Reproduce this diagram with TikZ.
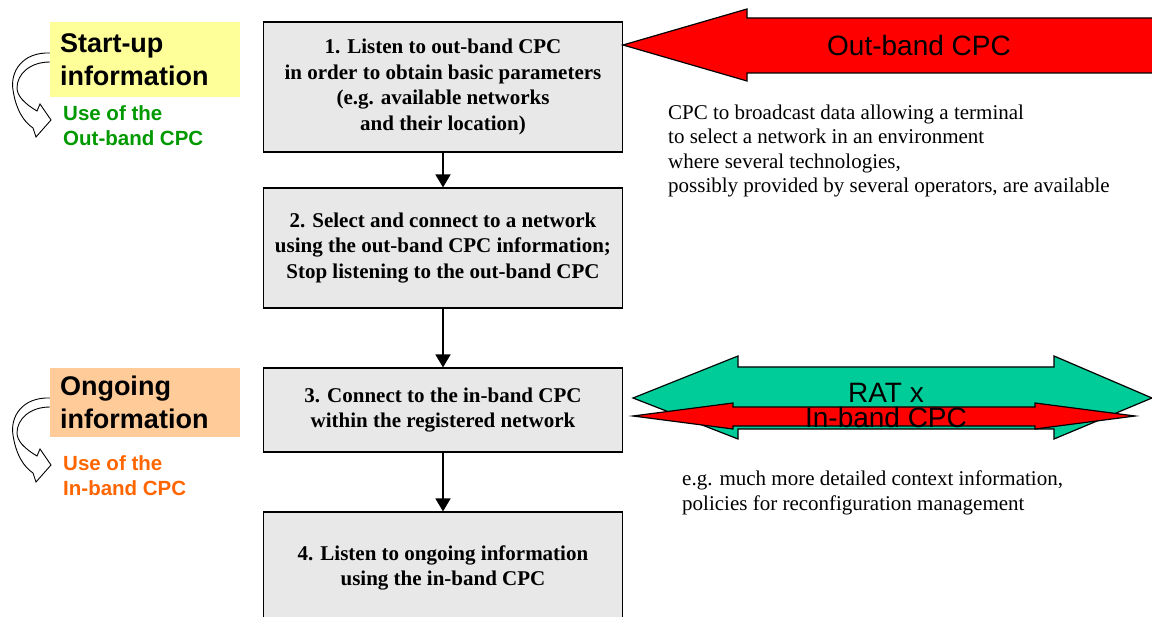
\documentclass[tikz,border=0pt]{standalone}
\usepackage{fontspec}
\setmainfont{Liberation Serif}
\setsansfont{Liberation Sans}
\usetikzlibrary{arrows.meta}

\definecolor{boxgray}{HTML}{E8E8E8}
\definecolor{startyellow}{HTML}{FFFF99}
\definecolor{ongoingorange}{HTML}{FFCC99}
\definecolor{usegreen}{HTML}{009900}
\definecolor{useorange}{HTML}{FF6600}
\definecolor{ratgreen}{HTML}{00CC99}
\definecolor{cpcred}{HTML}{FF0000}

\tikzset{
  stepbox/.style={draw=black, line width=1.2pt, fill=boxgray, minimum width=359pt,
    align=center, inner sep=0pt, font=\fontsize{21}{25.5}\selectfont\bfseries},
  flow/.style={line width=1.8pt, -{Triangle[length=13pt,width=15pt]}},
  phasebox/.style={minimum width=190pt, inner xsep=10pt, inner ysep=0pt, text width=170pt,
    align=left, font=\sffamily\bfseries\fontsize{27}{33}\selectfont},
  uselabel/.style={align=left, inner sep=0pt, anchor=north west,
    font=\sffamily\bfseries\fontsize{20.5}{25}\selectfont},
  note/.style={align=left, inner sep=0pt, anchor=north west,
    font=\fontsize{21}{24.5}\selectfont},
  blockarrow/.style={draw=black, line width=1.2pt},
  bigtext/.style={inner sep=0pt, font=\sffamily\fontsize{28}{25}\selectfont},
  turnarrow/.pic={
    \draw[line width=0.9pt, fill=white]
      (50,53) .. controls (22,52) and (10,72) .. (13,90)
      .. controls (16,110) and (24,122) .. (33,128)
      -- (36,137) -- (51,120) -- (40,104) -- (37,111)
      .. controls (25,104) and (17,96) .. (17,88)
      .. controls (17,74) and (30,62) .. (50,62);
  }
}

\begin{document}
\begin{tikzpicture}[x=1pt, y=-1pt]
\clip (0,0) rectangle (1152,617);
\fill[white] (0,0) rectangle (1152,617);

% flow of steps
\node[stepbox, minimum height=130pt] (s1) at (443,87)
  {1. Listen to out-band CPC\\in order to obtain basic parameters\\(e.g. available networks\\and their location)};
\node[stepbox, minimum height=120pt] (s2) at (443,248)
  {2. Select and connect to a network\\using the out-band CPC information;\\Stop listening to the out-band CPC};
\node[stepbox, minimum height=84pt] (s3) at (443,410)
  {3. Connect to the in-band CPC\\within the registered network};
\node[stepbox, minimum height=112pt] (s4) at (443,568)
  {4. Listen to ongoing information\\using the in-band CPC};

\draw[flow] (s1.south) -- (s2.north);
\draw[flow] (s2.south) -- (s3.north);
\draw[flow] (s3.south) -- (s4.north);

% phase labels on the left
\pic at (0,0) {turnarrow};
\pic at (0,345) {turnarrow};
\node[phasebox, fill=startyellow, minimum height=75pt] (startup) at (145,59.5)
  {Start-up\\information};
\node[uselabel, text=usegreen] (useout) at (63,105) {Use of the\\Out-band CPC};
\node[phasebox, fill=ongoingorange, minimum height=69pt] (ongoing) at (145,402.5)
  {Ongoing\\information};
\node[uselabel, text=useorange] (usein) at (63,455) {Use of the\\In-band CPC};

% out-band CPC broadcast channel
\path[blockarrow, fill=cpcred]
  (623,45) -- (747,9) -- (747,18) -- (1160,18) -- (1160,73) -- (747,73) -- (747,81) -- cycle;
\node[bigtext, anchor=base] (outband) at (919,56) {Out-band CPC};
\node[note] (outnote) at (668,104.5)
  {CPC to broadcast data allowing a terminal\\to select a network in an environment\\where several technologies,\\possibly provided by several operators, are available};

% RAT with its in-band CPC
\path[blockarrow, fill=ratgreen]
  (633,398) -- (738,356) -- (738,367) -- (1054,367) -- (1054,356) -- (1152,398)
  -- (1054,439) -- (1054,429) -- (738,429) -- (738,439) -- cycle;
\path[blockarrow, fill=cpcred]
  (633,416) -- (733,403) -- (733,407) -- (1035,407) -- (1035,403) -- (1135,416)
  -- (1035,429) -- (1035,426) -- (733,426) -- (733,429) -- cycle;
\node[bigtext, anchor=north, align=center] (rat) at (886,383) {RAT x\\In-band CPC};
\node[note] (innote) at (682,470.7)
  {e.g. much more detailed context information,\\policies for reconfiguration management};
\end{tikzpicture}
\end{document}
